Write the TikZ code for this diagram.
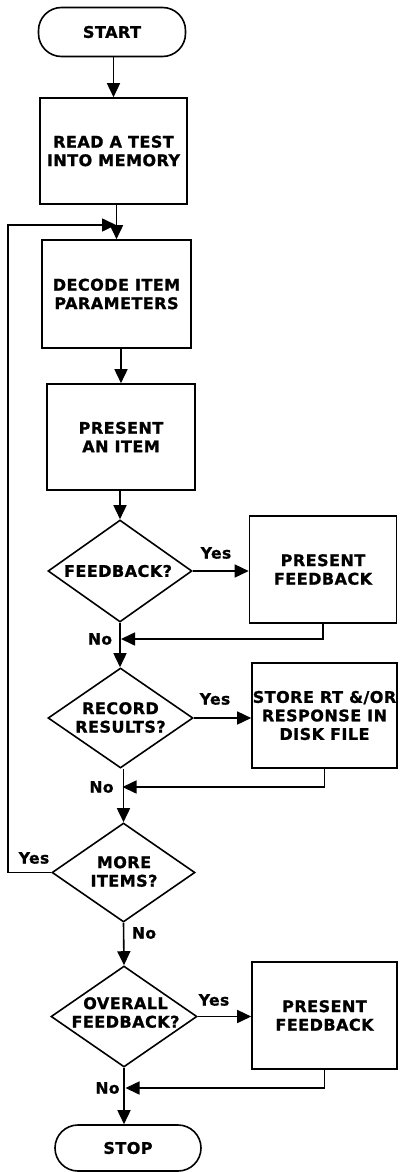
\documentclass[tikz,border=0pt]{standalone}
\usepackage{fontspec}
\setmainfont{DejaVu Sans}[LetterSpace=3,BoldFeatures={FakeBold=1.2}]
\usetikzlibrary{arrows.meta,shapes.geometric}
\begin{document}
\begin{tikzpicture}[x=1pt,y=-1pt,line width=1.6pt,
  every node/.style={font=\bfseries\fontsize{16}{18.5}\selectfont,align=center,inner sep=0pt},
  box/.style={draw,rectangle,minimum width=147pt,minimum height=106pt},
  term/.style={draw,rectangle,rounded corners=23pt,minimum width=147pt,minimum height=49pt},
  dec/.style={draw,diamond,minimum width=145pt,minimum height=100pt},
  lbl/.style={font=\bfseries\fontsize{15.5}{18}\selectfont},
  arr/.style={-{Triangle[length=14pt,width=13pt]}}]
\useasboundingbox (0,0) rectangle (399,1172);

% main column
\node[term] (start) at (112,32) {START};
\node[box] (read) at (113.5,151) {READ A TEST\\INTO MEMORY};
\node[box,minimum width=149pt,minimum height=108pt] (decode) at (116.5,294) {DECODE ITEM\\PARAMETERS};
\node[box,minimum width=148pt] (item) at (121,437) {PRESENT\\AN ITEM};
\node[dec,minimum width=144pt,minimum height=102pt] (fb) at (120,571) {};
\node (fbt) at (118,571) {FEEDBACK?};
\node[dec] (rec) at (120.5,718) {};
\node (rect) at (120.5,717.5) {RECORD\\RESULTS?};
\node[dec,minimum width=143pt,minimum height=99pt] (more) at (123.5,872.5) {};
\node (moret) at (124,871.5) {MORE\\ITEMS?};
\node[dec,minimum width=146pt,minimum height=101pt] (ovr) at (124,1016.5) {};
\node (ovrt) at (125.5,1012.5) {OVERALL\\FEEDBACK?};
\node[term,minimum width=146pt,minimum height=46pt] (stop) at (128,1148) {STOP};

% side boxes
\node[box,minimum height=107pt] (pf1) at (323,569.5) {PRESENT\\FEEDBACK};
\node[box,minimum width=145pt,minimum height=105pt] (store) at (324.5,715.5) {STORE RT \&/OR\\RESPONSE IN\\DISK FILE};
\node[box,minimum width=145pt,minimum height=107pt] (pf2) at (324.5,1015.5) {PRESENT\\FEEDBACK};

% junctions on the main line
\coordinate (j1) at (121,639);
\coordinate (j2) at (122.5,787);
\coordinate (j3) at (125.5,1088);
\coordinate (lc) at (8,225);
\coordinate (back) at (116,225);

% main flow, kept vertical
\draw[arr] (start.south -| read.north) -- (read.north);
\draw[arr] (read.south -| decode.north) -- (decode.north);
\draw[arr] (decode.south -| item.north) -- (item.north);
\draw[arr] (item.south -| fb.north) -- (fb.north);
\draw[arr] (fb.south) -- (fb.south |- rec.north);
\draw[arr] (rec.south -| more.north) -- (more.north);
\draw[arr] (more.south) -- (ovr.north);
\draw[arr] (ovr.south) -- (ovr.south |- stop.north);

% yes branches
\draw[arr] (fb.east) -- (fb.east -| pf1.west);
\draw[arr] (rec.east) -- (rec.east -| store.west);
\draw[arr] (ovr.east) -- (ovr.east -| pf2.west);

% returns
\draw[arr] (pf1.south) |- (j1);
\draw[arr] (store.south) |- (j2);
\draw[arr] (pf2.south) |- (j3);

% loop back for more items
\draw[arr] (more.west) -| (lc) -- (back);

% labels
\node[lbl] (y1) at (216,553) {Yes};
\node[lbl] (n1) at (100,639) {No};
\node[lbl] (y2) at (215,699) {Yes};
\node[lbl] (n2) at (101.5,787) {No};
\node[lbl] (y3) at (34,858) {Yes};
\node[lbl] (n3) at (144,933) {No};
\node[lbl] (y4) at (214,1000) {Yes};
\node[lbl] (n4) at (107.5,1088) {No};
\end{tikzpicture}
\end{document}
